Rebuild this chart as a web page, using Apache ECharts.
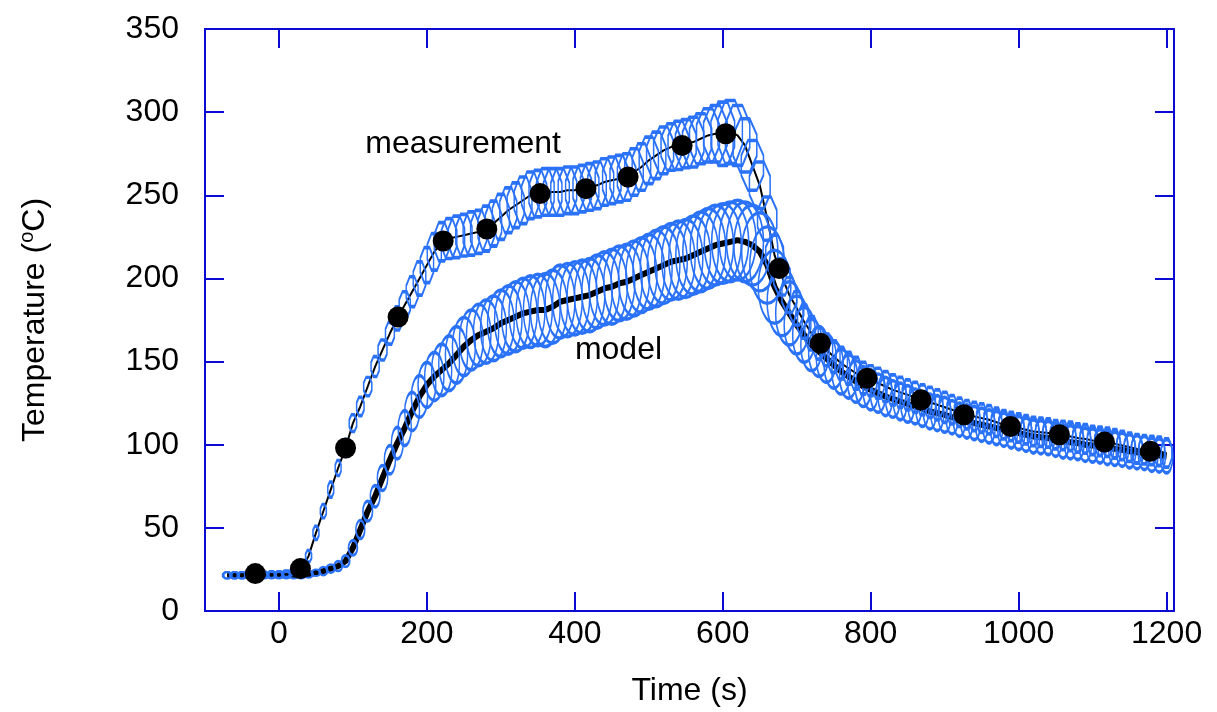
<!DOCTYPE html>
<html>
<head>
<meta charset="utf-8">
<title>Temperature</title>
<script src="https://cdn.jsdelivr.net/npm/echarts@6/dist/echarts.min.js"></script>
<style>
    html, body { margin: 0; padding: 0; background: #fff; }
    #main { width: 1217px; height: 712px; }
</style>
</head>
<body>
<div id="main"></div>
<script>
// shared time base (s)
var times = [-70, -60, -50, -40, -30, -20, -10, 0,
    10, 20, 30, 40, 50, 60, 70, 80, 90, 100,
    110, 120, 130, 140, 150, 160, 170, 180, 190, 200,
    210, 220, 230, 240, 250, 260, 270, 280, 290, 300,
    310, 320, 330, 340, 350, 360, 370, 380, 390, 400,
    410, 420, 430, 440, 450, 460, 470, 480, 490, 500,
    510, 520, 530, 540, 550, 560, 570, 580, 590, 600,
    610, 620, 630, 640, 650, 660, 670, 680, 690, 700,
    710, 720, 730, 740, 750, 760, 770, 780, 790, 800,
    810, 820, 830, 840, 850, 860, 870, 880, 890, 900,
    910, 920, 930, 940, 950, 960, 970, 980, 990, 1000,
    1010, 1020, 1030, 1040, 1050, 1060, 1070, 1080, 1090, 1100,
    1110, 1120, 1130, 1140, 1150, 1160, 1170, 1180, 1190, 1200];

var measTemp = [21.5, 21.5, 21.5, 21.5, 21.6, 21.8, 22, 22,
    22.5, 23.5, 25, 33, 47, 60, 73, 86, 98, 113,
    123, 135, 147, 157, 167, 176, 184, 192, 200, 208,
    216, 222, 224, 225, 226, 227, 228, 230, 233, 237,
    241, 244, 247, 250, 251, 252, 252, 252, 253, 253,
    254, 255, 256, 258, 259, 260, 261, 264, 267, 271,
    274, 277, 279, 280, 281, 282, 284, 286, 287, 287,
    288, 286, 280, 268, 256, 236, 214, 201, 190, 182,
    174, 167, 161, 157, 153, 149, 146, 143, 140, 138.5,
    137, 135, 133, 131.5, 130, 128.5, 127, 125.5, 124, 122.5,
    121, 119.5, 118, 117, 116, 115, 113.5, 112, 111, 110,
    109, 108, 107.5, 107, 106, 105.5, 105, 104, 103.5, 102.5,
    102, 101.5, 100.5, 99.5, 98.5, 97.5, 97, 96.5, 96, 95];

// measurement uncertainty: box width (s) and height (degC)
var measDt = [11, 11, 11, 11, 11, 11, 11, 11,
    11, 11, 11, 8, 8, 8, 8, 8, 8, 10,
    10, 11, 11, 12, 12, 14, 15, 16, 17, 18,
    19, 20, 21, 22, 22, 22, 22, 22, 22, 23,
    23, 23, 24, 24, 24, 24, 25, 25, 25, 25,
    25, 25, 25, 25, 25, 25, 25, 25, 25, 26,
    26, 27, 27, 28, 28, 29, 30, 31, 32, 32,
    33, 33, 32, 30, 28, 26, 24, 22, 20, 19,
    18, 18, 17, 17, 17, 17, 16, 16, 16, 16,
    16, 16, 16, 15, 15, 15, 15, 15, 15, 15,
    14, 14, 14, 14, 14, 14, 14, 14, 14, 14,
    14, 14, 14, 14, 14, 14, 14, 14, 14, 14,
    14, 14, 14, 14, 14, 14, 14, 14, 14, 14];
var measDT = [4, 4, 4, 4, 4, 4, 4, 4,
    4, 4, 4, 7, 8, 8, 9, 9, 10, 10,
    11, 11, 12, 12, 13, 14, 16, 18, 20, 21,
    22, 23, 24, 25, 25, 26, 26, 27, 27, 27,
    27, 27, 28, 28, 28, 28, 28, 28, 28, 28,
    28, 28, 28, 28, 28, 28, 28, 28, 28, 28,
    28, 28, 28, 29, 29, 30, 30, 32, 34, 38,
    38, 36, 32, 30, 28, 26, 24, 22, 21, 20,
    20, 20, 19, 19, 19, 19, 19, 19, 19, 18,
    18, 18, 18, 18, 18, 18, 18, 18, 18, 18,
    17, 17, 17, 17, 17, 17, 17, 17, 17, 17,
    17, 17, 17, 17, 17, 17, 17, 17, 17, 17,
    17, 17, 17, 17, 17, 17, 17, 17, 17, 17];

var modelTemp = [21.5, 21.5, 21.5, 21.5, 21.5, 21.5, 21.5, 21.5,
    21.5, 21.5, 21.5, 22, 23, 24, 25.5, 27, 30, 38,
    49, 60, 69, 80, 91, 101, 110, 120, 129, 136,
    141, 145, 149, 154, 159, 163, 166, 168, 170, 173,
    175, 177, 179, 180, 181, 181, 183, 186, 187, 188,
    189, 190, 192, 194, 195, 197, 198, 200, 202, 204,
    206, 208, 210, 211, 212, 214, 216, 218, 220, 221,
    222, 223, 222, 220, 216, 208, 195, 186, 179, 172,
    166, 160, 156, 152, 148, 144, 141, 138, 135, 133,
    131, 129, 127.5, 126, 124.5, 123, 121.5, 120, 119, 118,
    116.5, 115, 114, 113, 112, 111, 110, 109, 108, 107,
    106, 105, 104.5, 104, 103, 102, 101.5, 101, 100, 99.5,
    99, 98, 97.5, 97, 96, 95.5, 95, 94, 93.5, 93];

// model uncertainty: ellipse width (s) and height (degC)
var modelDt = [11, 11, 11, 11, 11, 11, 11, 11,
    11, 11, 11, 11, 11, 11, 11, 11, 11, 12,
    12, 13, 13, 14, 15, 16, 18, 20, 22, 24,
    26, 27, 28, 30, 31, 32, 33, 34, 35, 36,
    37, 38, 38, 39, 39, 40, 40, 40, 40, 40,
    41, 41, 41, 41, 42, 42, 42, 42, 42, 43,
    43, 44, 44, 45, 46, 47, 48, 48, 49, 50,
    50, 50, 50, 50, 49, 47, 44, 40, 37, 34,
    31, 29, 28, 27, 26, 25, 24, 23, 22, 21,
    21, 20, 20, 19, 19, 19, 18, 18, 18, 18,
    17, 17, 17, 17, 17, 17, 17, 17, 17, 17,
    17, 17, 17, 17, 17, 17, 17, 17, 17, 17,
    17, 17, 17, 17, 17, 17, 17, 17, 17, 17];
var modelDT = [4, 4, 4, 4, 4, 4, 4, 4,
    4, 4, 4, 4, 4, 5, 5, 6, 7, 9,
    11, 12, 13, 15, 17, 19, 21, 23, 25, 27,
    29, 31, 33, 34, 35, 36, 37, 38, 39, 40,
    41, 42, 42, 43, 43, 44, 44, 44, 44, 44,
    44, 44, 44, 44, 45, 45, 45, 45, 45, 45,
    46, 46, 46, 47, 47, 47, 48, 48, 48, 48,
    48, 48, 48, 48, 47, 46, 44, 41, 38, 35,
    33, 31, 30, 29, 28, 27, 26, 25, 24, 24,
    23, 23, 22, 22, 22, 21, 21, 21, 21, 21,
    20, 20, 20, 20, 20, 20, 20, 20, 20, 20,
    20, 20, 20, 20, 20, 20, 20, 20, 20, 20,
    20, 20, 20, 20, 20, 20, 20, 20, 20, 20];

// filled markers on the measurement curve
var dotTime = [-32, 29, 90, 161, 222, 281, 353, 415, 472, 545, 604, 676, 732, 795, 868, 926, 989, 1055, 1116, 1178];
var dotTemp = [22.5, 25.5, 98, 176.8, 222.5, 229.7, 251, 254, 261, 280, 287, 206, 161, 140, 127, 118, 111, 106, 101.6, 96];

var xTicks = [0, 200, 400, 600, 800, 1000, 1200];
var curveNames = ['measurement', 'model'];
var curveNameTime = [249, 459];
var curveNameTemp = [281, 157];

(function () {
    "use strict";
    var AXIS_COLOR = '#0a0ad2';
    var BLUE = '#2a72f8';
    var FONT = 'Liberation Sans, Arial, sans-serif';

    var chart = echarts.init(document.getElementById('main'));

    function zip(xs, ys, ws, hs) {
        return xs.map(function (x, i) {
            return ws ? [x, ys[i], ws[i], hs[i]] : [x, ys[i]];
        });
    }

    function plain(v) {
        return String(v);
    }

    function frameAxis(extra) {
        var axis = {
            axisLine: { show: true, onZero: false, lineStyle: { color: AXIS_COLOR, width: 2 } },
            axisTick: { show: true, inside: true, length: 19, lineStyle: { color: AXIS_COLOR, width: 2 } },
            splitLine: { show: false },
            axisLabel: { show: false }
        };
        return Object.assign(axis, extra);
    }

    function getXAxis() {
        var bottom = frameAxis({
            type: 'value', position: 'bottom', min: -100, max: 1210,
            name: 'Time (s)', nameLocation: 'middle', nameGap: 64,
            nameTextStyle: { color: '#000', fontSize: 32, fontFamily: FONT }
        });
        bottom.axisTick.customValues = xTicks;
        bottom.axisLabel = { show: true, customValues: xTicks, formatter: plain, color: '#000', fontSize: 32, fontFamily: FONT, margin: 7 };
        var top = frameAxis({ type: 'value', position: 'top', min: -100, max: 1210 });
        top.axisTick.customValues = xTicks;
        return [bottom, top];
    }

    function getYAxis() {
        var left = frameAxis({
            type: 'value', position: 'left', min: 0, max: 350, interval: 50,
            name: 'Temperature ({sup|o}C)', nameLocation: 'middle', nameGap: 152, nameRotate: 90,
            nameTextStyle: {
                color: '#000', fontSize: 32, fontFamily: FONT, lineHeight: 36,
                rich: { sup: { fontSize: 20, fontFamily: FONT, lineHeight: 20, verticalAlign: 'top', color: '#000' } }
            }
        });
        left.axisLabel = { show: true, formatter: plain, color: '#000', fontSize: 32, fontFamily: FONT, margin: 26 };
        var right = frameAxis({ type: 'value', position: 'right', min: 0, max: 350, interval: 50 });
        return [left, right];
    }

    function getSeries(kx, ky) {
        var band = { color: 'rgba(0,0,0,0)', borderColor: BLUE, borderWidth: 2.3, opacity: 1 };
        return [{
            name: 'model line', type: 'line', data: zip(times, modelTemp),
            symbol: 'none', lineStyle: { color: '#000', width: 6 }, z: 2
        }, {
            name: 'measurement line', type: 'line', data: zip(times, measTemp),
            symbol: 'none', lineStyle: { color: '#000', width: 2 }, z: 2
        }, {
            name: 'model band', type: 'scatter', data: zip(times, modelTemp, modelDt, modelDT),
            symbol: 'circle',
            symbolSize: function (v) { return [v[2] * kx, v[3] * ky]; },
            itemStyle: band, z: 3
        }, {
            name: 'measurement band', type: 'scatter', data: zip(times, measTemp, measDt, measDT),
            symbol: 'path://M3,0L7,0L10,3L10,7L7,10L3,10L0,7L0,3Z',
            symbolSize: function (v) { return [v[2] * kx, v[3] * ky]; },
            itemStyle: band, z: 4
        }, {
            name: 'measurement points', type: 'scatter', data: zip(dotTime, dotTemp),
            symbol: 'circle', symbolSize: 21,
            itemStyle: { color: '#000', opacity: 1 }, z: 5
        }, {
            name: 'labels', type: 'scatter', symbolSize: 0, z: 6,
            itemStyle: { opacity: 1 },
            data: curveNames.map(function (n, i) { return { name: n, value: [curveNameTime[i], curveNameTemp[i]] }; }),
            label: { show: true, position: 'inside', formatter: '{b}', color: '#000', opacity: 1, fontSize: 32, fontFamily: FONT }
        }];
    }

    var option = {
        animation: false,
        backgroundColor: '#fff',
        grid: { left: 205, top: 29, right: 43, bottom: 101, containLabel: false },
        xAxis: getXAxis(),
        yAxis: getYAxis(),
        series: getSeries(0.74, 1.66)
    };
    chart.setOption(option);

    // marker sizes in data units -> pixels through the axis scales
    var kx = Math.abs(chart.convertToPixel({ xAxisIndex: 0 }, 100) - chart.convertToPixel({ xAxisIndex: 0 }, 0)) / 100;
    var ky = Math.abs(chart.convertToPixel({ yAxisIndex: 0 }, 100) - chart.convertToPixel({ yAxisIndex: 0 }, 0)) / 100;
    chart.setOption({ series: getSeries(kx, ky) });
}());
</script>
</body>
</html>
